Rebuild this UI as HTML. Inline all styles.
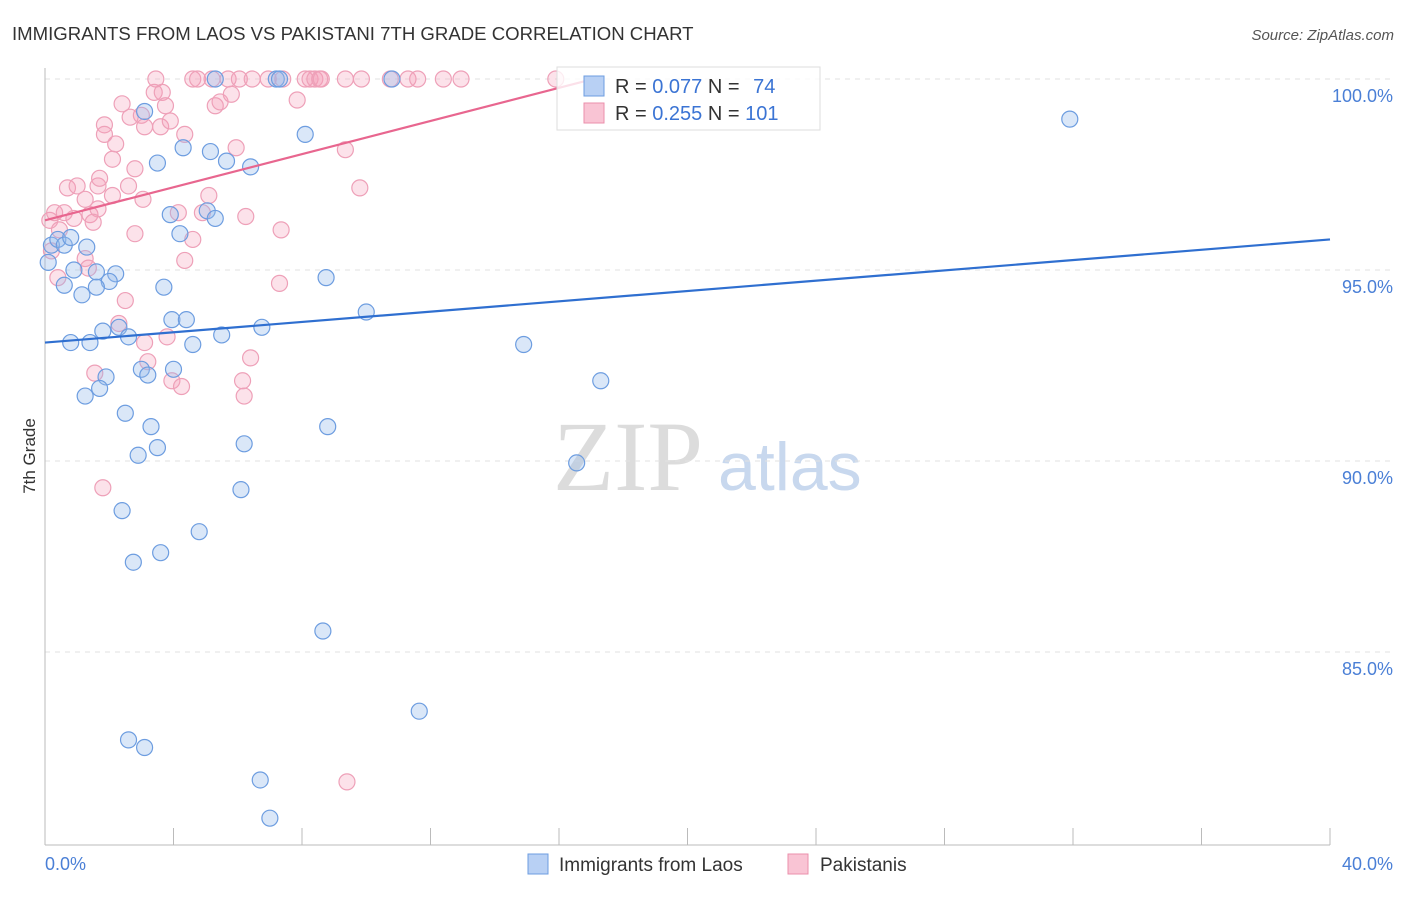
<!DOCTYPE html>
<html><head><meta charset="utf-8"><style>
body{margin:0;background:#fff;font-family:"Liberation Sans",sans-serif;}
svg text{font-family:"Liberation Sans",sans-serif;}
svg text.serif{font-family:"Liberation Serif",serif;}
</style></head><body>
<svg width="1406" height="892" id="chart">
<text x="12" y="40" font-size="18.6" fill="#333">IMMIGRANTS FROM LAOS VS PAKISTANI 7TH GRADE CORRELATION CHART</text>
<text x="1394" y="40" font-size="15" fill="#555" font-style="italic" text-anchor="end">Source: ZipAtlas.com</text>
<text x="35" y="456" font-size="17" fill="#333" transform="rotate(-90 35 456)" text-anchor="middle">7th Grade</text>
<text class="serif" x="553" y="490" font-size="100" fill="#dcdcdc">ZIP</text>
<text x="718" y="490" font-size="68" fill="#c8d8ee">atlas</text>
<g id="grid"></g><g id="axes"></g><g id="pts"></g><g id="lines"></g>
<g>
<rect x="557" y="67" width="263" height="63" fill="rgba(255,255,255,0.8)" stroke="#ddd"/>
<rect x="584" y="76" width="20" height="20" fill="#b8d0f4" stroke="#6d9de0"/>
<rect x="584" y="103" width="20" height="20" fill="#f9c4d4" stroke="#eb8fab"/>
<text x="615" y="93" font-size="20" fill="#333">R = <tspan fill="#3b74d4">0.077</tspan>   N = <tspan fill="#3b74d4" dx="8">74</tspan></text>
<text x="615" y="120" font-size="20" fill="#333">R = <tspan fill="#3b74d4">0.255</tspan>   N = <tspan fill="#3b74d4">101</tspan></text>
</g>
<g>
<rect x="528" y="854" width="20" height="20" fill="#b8d0f4" stroke="#6d9de0"/>
<text x="559" y="871" font-size="19" fill="#333">Immigrants from Laos</text>
<rect x="788" y="854" width="20" height="20" fill="#f9c4d4" stroke="#eb8fab"/>
<text x="820" y="871" font-size="19" fill="#333">Pakistanis</text>
</g>
</svg>
<script>
const yTicks=[100,95,90,85];
const yTickLabels=["100.0%","95.0%","90.0%","85.0%"];
const xTickLabels=["0.0%","40.0%"];
const laosX=[0.1,0.2,0.4,0.6,0.8,1.3,0.9,1.6,2.2,2.0,0.6,1.15,1.6,0.8,1.4,1.8,2.3,2.6,1.9,1.25,1.7,3.0,3.2,4.0,2.5,3.3,3.5,2.9,2.4,2.75,3.6,4.8,6.1,6.2,3.7,3.95,4.4,4.6,5.5,6.75,3.9,4.2,5.05,5.3,3.5,4.3,5.15,5.65,6.4,3.1,5.3,7.2,7.3,10.8,8.1,8.75,10.0,8.8,8.65,11.65,2.6,3.1,6.7,7.0,14.9,17.3,16.55,31.9];
const laosY=[95.2,95.65,95.8,95.65,95.85,95.6,95.0,94.95,94.9,94.7,94.6,94.35,94.55,93.1,93.1,93.4,93.5,93.25,92.2,91.7,91.9,92.4,92.25,92.4,91.25,90.9,90.35,90.15,88.7,87.35,87.6,88.15,89.25,90.45,94.55,93.7,93.7,93.05,93.3,93.5,96.45,95.95,96.55,96.35,97.8,98.2,98.1,97.85,97.7,99.15,100,100,100,100,98.55,94.8,93.9,90.9,85.55,83.45,82.7,82.5,81.65,80.65,93.05,92.1,89.95,98.95];
const pakX=[3.45,4.6,4.75,5.2,5.7,6.05,6.45,6.95,7.4,8.1,8.25,8.4,8.55,8.6,9.35,9.85,10.75,11.3,11.6,12.4,12.95,15.9,0.15,0.3,0.45,0.2,0.4,0.7,1.0,0.6,0.9,1.4,1.65,1.5,1.25,1.65,1.7,2.1,2.2,1.85,1.85,2.4,2.65,3.0,2.8,2.6,2.1,3.05,2.8,3.1,3.6,3.9,3.4,3.65,3.75,4.35,4.15,4.6,4.35,5.1,4.9,5.3,5.45,5.8,5.95,6.25,7.35,7.3,7.85,9.35,9.8,2.5,2.3,3.1,3.2,3.8,3.95,4.25,1.55,6.15,6.2,6.4,1.8,9.4,1.25,1.35];
const pakY=[100,100,100,100,100,100,100,100,100,100,100,100,100,100,100,100,100,100,100,100,100,100,96.3,96.5,96.05,95.5,94.8,97.15,97.2,96.5,96.35,96.45,96.6,96.25,96.85,97.2,97.4,97.9,98.3,98.8,98.55,99.35,99.0,99.05,97.65,97.2,96.95,96.85,95.95,98.75,98.75,98.9,99.65,99.65,99.3,98.55,96.5,95.8,95.25,96.95,96.5,99.3,99.4,99.6,98.2,96.4,96.05,94.65,99.45,98.15,97.15,94.2,93.6,93.1,92.6,93.25,92.1,91.95,92.3,92.1,91.7,92.7,89.3,81.6,95.3,95.05];
const laosTrend=[[0,93.1],[40,95.8]];
const pakTrend=[[0,96.3],[17.3,100.05]];
const X=v=>45+v*1285/40, Y=v=>79+(100-v)*38.2;
const NS="http://www.w3.org/2000/svg";
function mk(t,a,p){const e=document.createElementNS(NS,t);for(const k in a)e.setAttribute(k,a[k]);document.getElementById(p).appendChild(e);return e;}
yTicks.forEach((t,i)=>{
 const g=mk('line',{x1:45,x2:1393,y1:Y(t),y2:Y(t),stroke:'#e2e2e2','stroke-dasharray':'5,5'},'grid');
 
 
 const l=mk('text',{x:1393,y:Y(t)+23,'font-size':18,fill:'#4a7fd6','text-anchor':'end'},'axes');l.textContent=yTickLabels[i];
 
 
});
mk('line',{x1:45,x2:45,y1:68,y2:845,stroke:'#bbb'},'axes');
mk('line',{x1:45,x2:1330,y1:845,y2:845,stroke:'#bbb'},'axes');
for(let i=1;i<=10;i++){mk('line',{x1:45+i*128.5,x2:45+i*128.5,y1:828,y2:845,stroke:'#bbb'},'axes');}
[[0,'start',45],[1,'end',1393]].forEach(([i,a,x])=>{const t=mk('text',{x:x,y:870,'font-size':18,fill:'#4a7fd6','text-anchor':a},'axes');t.textContent=xTickLabels[i];
 
 });
pakX.forEach((x,i)=>{const c=mk('circle',{cx:X(x),cy:Y(pakY[i]),r:8,fill:'rgba(244,160,186,0.3)',stroke:'#eea0b8','stroke-width':1.2},'pts');
 
 });
laosX.forEach((x,i)=>{const c=mk('circle',{cx:X(x),cy:Y(laosY[i]),r:8,fill:'rgba(150,185,235,0.35)',stroke:'#6d9de0','stroke-width':1.2},'pts');
 
 });
const l1=mk('line',{x1:X(laosTrend[0][0]),y1:Y(laosTrend[0][1]),x2:X(laosTrend[1][0]),y2:Y(laosTrend[1][1]),stroke:'#2f6fd0','stroke-width':2.2},'lines');


const l2=mk('line',{x1:X(pakTrend[0][0]),y1:Y(pakTrend[0][1]),x2:X(pakTrend[1][0]),y2:Y(pakTrend[1][1]),stroke:'#e8668f','stroke-width':2.2},'lines');


</script>
</body></html>
